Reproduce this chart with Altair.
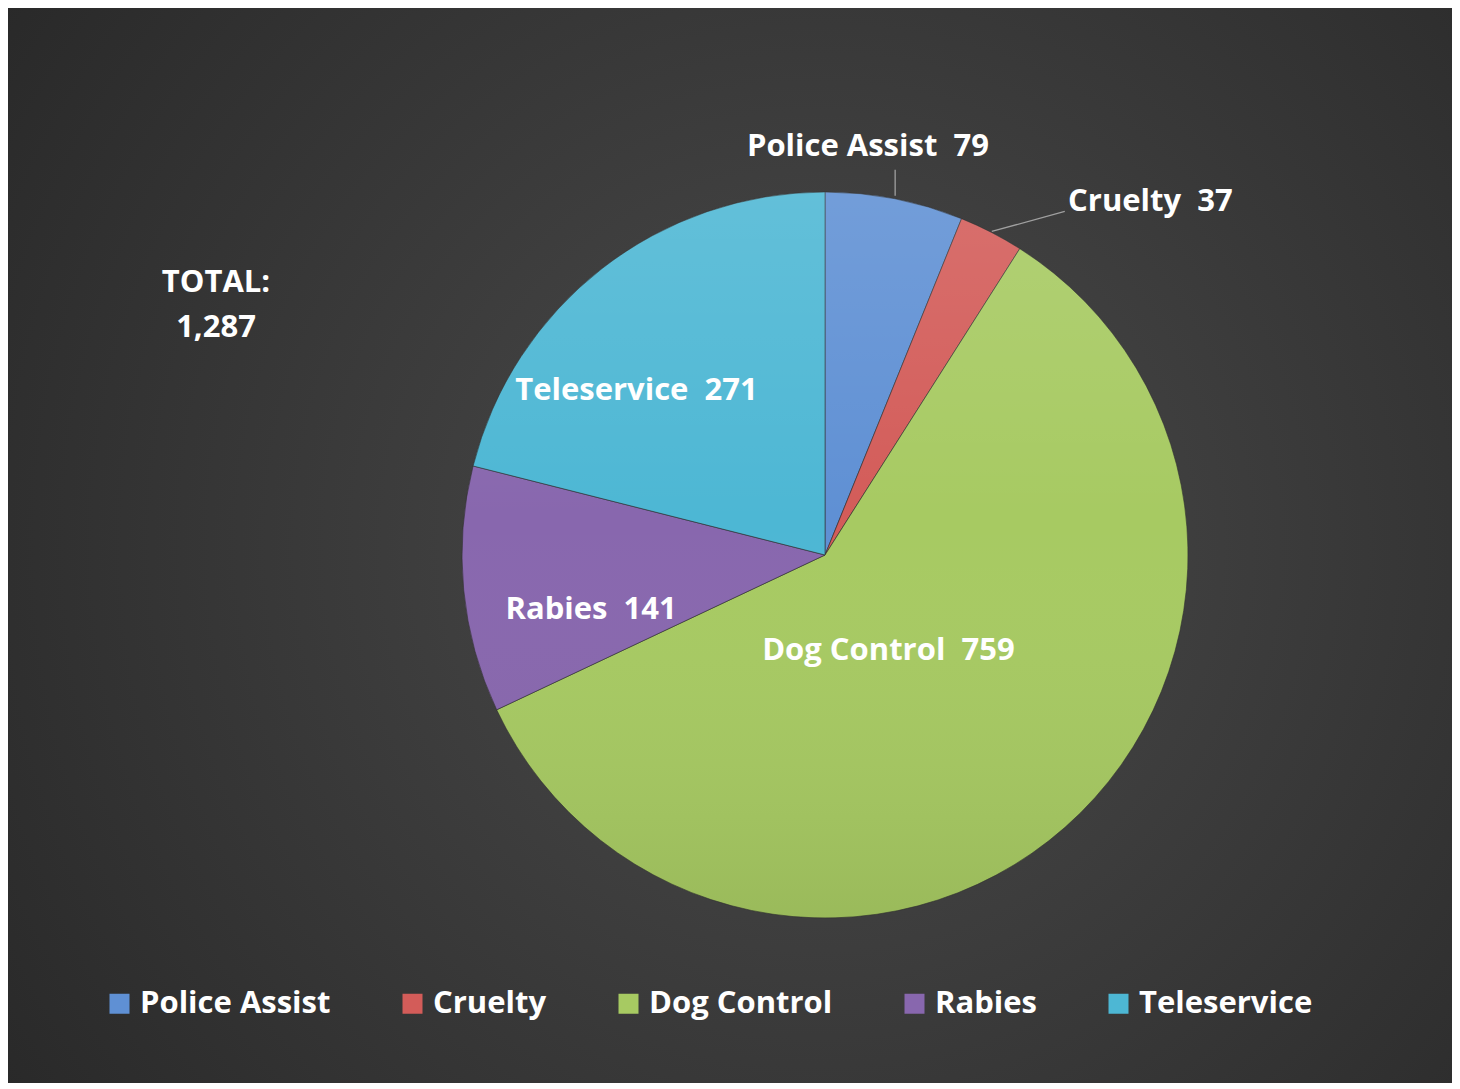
import math
import altair as alt
import pandas as pd

# ---- data ----
categories = ["Police Assist", "Cruelty", "Dog Control", "Rabies", "Teleservice"]
values = [79, 37, 759, 141, 271]
colors = ["#5f90d4", "#d35c59", "#a7ca62", "#8867ae", "#4db7d4"]
total_label = "TOTAL:"

df = pd.DataFrame({"category": categories, "value": values,
                   "idx": list(range(len(categories)))})

# ---- layout constants ----
W, H = 1444, 1075
CX, CY = 817, 547
R = 363
FONT = "Open Sans"
FS = 31

bg = alt.Chart(pd.DataFrame({"a": [0]})).mark_rect(
    color=alt.RadialGradient(
        gradient="radial",
        stops=[alt.GradientStop(offset=0, color="#4b4b4b"),
               alt.GradientStop(offset=1, color="#242424")],
        x1=0.56, y1=0.5, r1=0, x2=0.56, y2=0.5, r2=0.78)
).encode(x=alt.value(0), x2=alt.value(W), y=alt.value(0), y2=alt.value(H))

legend = alt.Legend(
    title=None, orient="none", legendX=96, legendY=980, direction="horizontal",
    symbolType="square", symbolSize=400, symbolStrokeWidth=0, symbolOpacity=1,
    labelFont=FONT, labelFontSize=FS, labelFontWeight="bold", labelColor="white",
    columnPadding=66, labelOffset=5, labelLimit=500)

pie = alt.Chart(df).mark_arc(radius=R, stroke="#2e2e2e", strokeWidth=1, strokeOpacity=0.6).encode(
    theta=alt.Theta("value:Q", stack=True),
    order=alt.Order("idx:Q"),
    color=alt.Color("category:N", scale=alt.Scale(domain=categories, range=colors), legend=legend),
    x=alt.value(CX), y=alt.value(CY),
)

overlay = alt.Chart(pd.DataFrame({"a": [0]})).mark_arc(
    radius=R,
    color=alt.LinearGradient(
        gradient="linear",
        stops=[alt.GradientStop(offset=0, color="rgba(255,255,255,0.12)"),
               alt.GradientStop(offset=0.45, color="rgba(255,255,255,0)"),
               alt.GradientStop(offset=1, color="rgba(0,0,0,0.08)")],
        x1=0, y1=0, x2=0, y2=1)
).encode(theta=alt.value(0), theta2=alt.value(2 * math.pi), x=alt.value(CX), y=alt.value(CY))


def angled():
    return (alt.Chart(df)
            .transform_window(cum="sum(value)", sort=[alt.SortField("idx")])
            .transform_joinaggregate(tot="sum(value)")
            .transform_calculate(mid="(datum.cum - datum.value/2) / datum.tot * 2 * PI",
                                 label="datum.category + '\u00a0\u00a0' + datum.value"))


def slice_label(cat, radius, dx, dy):
    return angled().transform_filter(alt.datum.category == cat).mark_text(
        radius=radius, dx=dx, dy=dy, font=FONT, fontSize=FS, fontWeight="bold",
        color="white", align="center", baseline="middle"
    ).encode(theta=alt.Theta("mid:Q", scale=None), text="label:N",
             x=alt.value(CX), y=alt.value(CY))


def leader(cat, r0, ddx, ddy):
    return angled().transform_filter(alt.datum.category == cat).transform_calculate(
        x1=f"{CX} + {r0} * sin(datum.mid)",
        y1=f"{CY} - {r0} * cos(datum.mid)",
    ).transform_calculate(x2=f"datum.x1 + {ddx}", y2=f"datum.y1 + {ddy}").mark_rule(
        color="#a0a0a0", strokeWidth=1.3
    ).encode(x=alt.X("x1:Q", scale=None, axis=None), y=alt.Y("y1:Q", scale=None, axis=None),
             x2="x2:Q", y2="y2:Q")


labels = [
    slice_label("Police Assist", 417, -37, 1),
    slice_label("Cruelty", 398, 143, 1),
    slice_label("Dog Control", 114, -12, 10),
    slice_label("Rabies", 240, 5, 32),
    slice_label("Teleservice", 250, -35, 33),
]

leaders = [
    leader("Police Assist", 366, 0, -26),
    leader("Cruelty", 364, 73, -20),
]

total_txt = alt.Chart(pd.DataFrame({"t": [total_label]})).mark_text(
    font=FONT, fontSize=FS, fontWeight="bold", color="white", align="center", baseline="middle"
).encode(text="t:N", x=alt.value(208), y=alt.value(275))

total_num = alt.Chart(df).transform_aggregate(total="sum(value)").mark_text(
    font=FONT, fontSize=FS, fontWeight="bold", color="white", align="center", baseline="middle"
).encode(text=alt.Text("total:Q", format=","), x=alt.value(208), y=alt.value(320))

chart = alt.layer(bg, pie, overlay, *leaders, *labels, total_txt, total_num).properties(
    width=W, height=H, padding=0, autosize=alt.AutoSizeParams(type="none"),
    background="#2b2b2b"
).configure_view(stroke=None)

chart.save("out.html", embed_options={"renderer": "svg", "actions": False})
